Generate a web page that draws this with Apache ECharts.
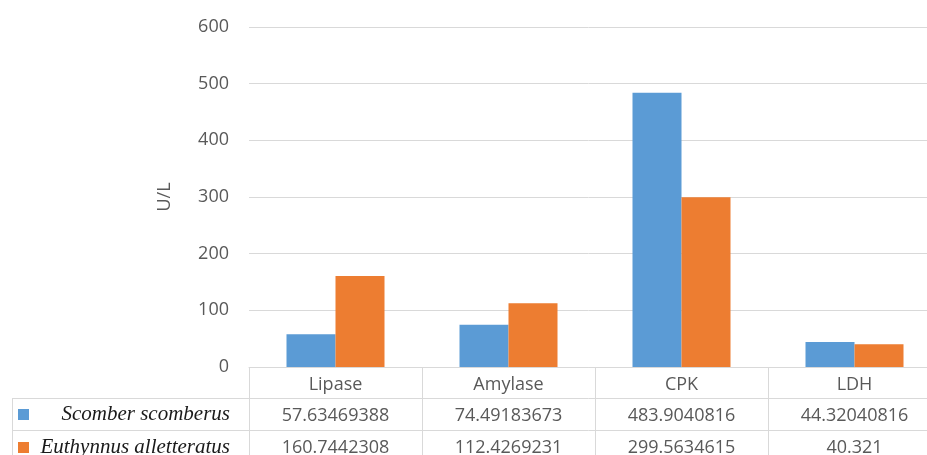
<!DOCTYPE html>
<html><head><meta charset="utf-8">
<script src="https://cdn.jsdelivr.net/npm/echarts@6/dist/echarts.min.js"></script>
<style>html,body{margin:0;padding:0;background:#fff}#c{width:927px;height:455px}</style>
</head><body><div id="c"></div>
<script>
const categories = ['Lipase', 'Amylase', 'CPK', 'LDH'];
const seriesNames = ['Scomber scomberus', 'Euthynnus alletteratus'];
const scomber = [57.63469388, 74.49183673, 483.9040816, 44.32040816];
const euthynnus = [160.7442308, 112.4269231, 299.5634615, 40.321];
const yTicks = [0, 100, 200, 300, 400, 500, 600];
const colors = ['#5B9BD5', '#ED7D31'];

const font = 'Open Sans';
const gray = '#595959';
const lineCol = '#D9D9D9';

const chart = echarts.init(document.getElementById('c'), null, {renderer: 'canvas'});
const rowVals = [scomber, euthynnus];

const tableAxis = (k) => ({
  type: 'category', gridIndex: 0, position: 'bottom', offset: 31 + 32 * k,
  data: categories,
  axisLine: {show: true, lineStyle: {color: lineCol, width: 1}},
  axisTick: {show: false},
  axisLabel: {margin: 9, fontFamily: font, fontSize: 18, color: gray,
    formatter: (v, i) => String(rowVals[k][i])},
  splitLine: {show: false}
});

chart.setOption({
  animation: false,
  color: colors,
  grid: {left: 249, right: -14, top: 27, bottom: 88, containLabel: false, outerBoundsMode: 'none'},
  legend: {
    orient: 'vertical', left: 18, top: 404, height: 80, padding: 0,
    itemWidth: 11, itemHeight: 11, itemGap: 12,
    icon: 'rect', data: seriesNames,
    formatter: (n) => '{n|' + n + '}',
    textStyle: {rich: {n: {width: 196, align: 'right', fontFamily: 'Liberation Serif', fontStyle: 'italic', fontSize: 21, lineHeight: 20, color: '#1a1a1a'}}}
  },
  xAxis: [
    {
      type: 'category', data: categories, position: 'bottom',
      axisLine: {show: true, lineStyle: {color: lineCol, width: 1}},
      axisTick: {show: true, length: 100, lineStyle: {color: lineCol, width: 1}},
      axisLabel: {margin: 9, fontFamily: font, fontSize: 18, color: gray},
      splitLine: {show: false}
    },
    tableAxis(0),
    tableAxis(1)
  ],
  yAxis: {
    type: 'value', min: yTicks[0], max: yTicks[yTicks.length - 1], interval: 100,
    name: 'U/L', nameLocation: 'middle', nameGap: 75,
    nameTextStyle: {fontFamily: font, fontSize: 18, color: gray},
    axisLine: {show: false}, axisTick: {show: false},
    axisLabel: {margin: 20, fontFamily: font, fontSize: 18, color: gray},
    splitLine: {lineStyle: {color: lineCol, width: 1}}
  },
  graphic: [
    {type: 'line', shape: {x1: 12, y1: 398.5, x2: 249, y2: 398.5}, style: {stroke: lineCol, lineWidth: 1}},
    {type: 'line', shape: {x1: 12, y1: 430.5, x2: 249, y2: 430.5}, style: {stroke: lineCol, lineWidth: 1}},
    {type: 'line', shape: {x1: 12.5, y1: 398, x2: 12.5, y2: 455}, style: {stroke: lineCol, lineWidth: 1}}
  ],
  series: [
    {name: seriesNames[0], type: 'bar', data: scomber, barWidth: 49, barGap: '0%', itemStyle: {color: colors[0]}},
    {name: seriesNames[1], type: 'bar', data: euthynnus, barWidth: 49, barGap: '0%', itemStyle: {color: colors[1]}}
  ]
});
</script>
</body></html>
